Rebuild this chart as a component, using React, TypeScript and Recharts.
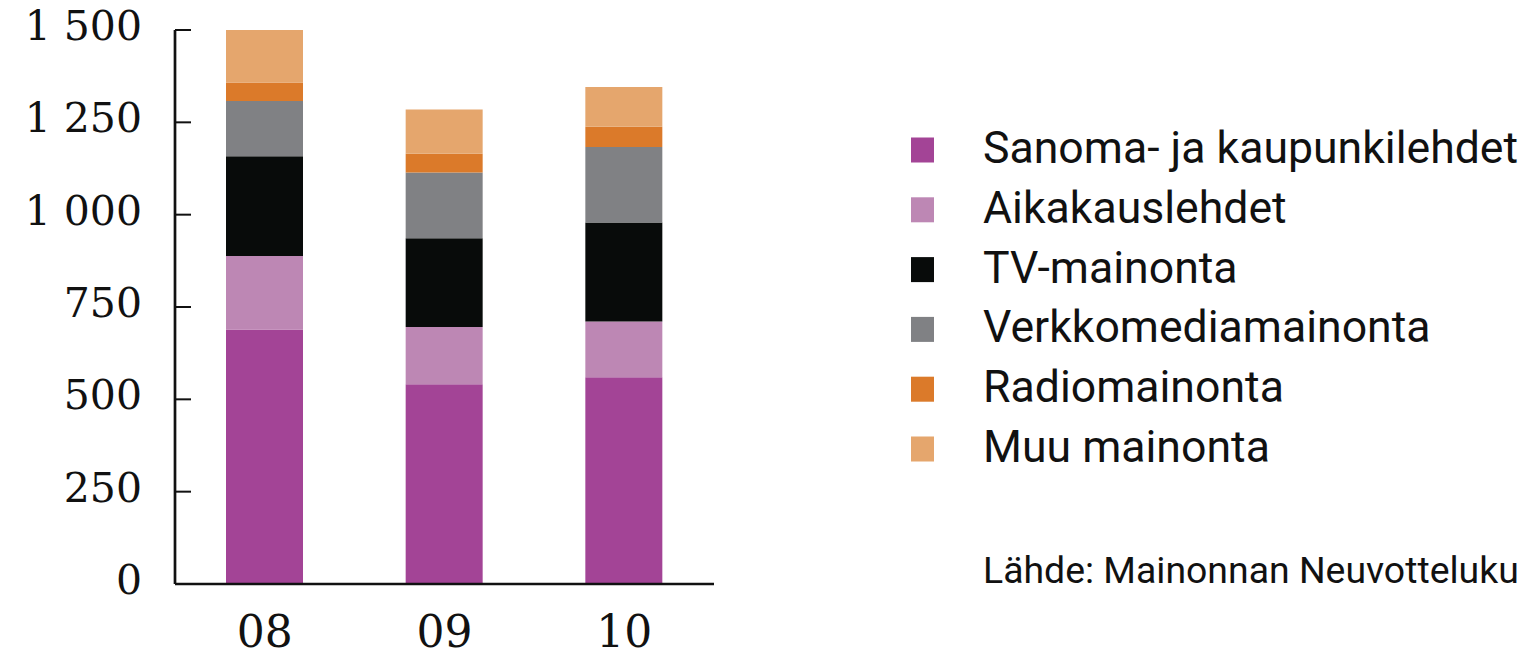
import React from 'react';
import { BarChart, Bar, XAxis, YAxis, Legend } from 'recharts';

// advertising spend by medium, years 2008-2010
const years = ['08', '09', '10'];
const sanoma = [689, 541, 560];
const aikakaus = [199, 155, 151];
const tv = [270, 240, 268];
const verkko = [150, 178, 204];
const radio = [50, 51, 55];
const muu = [142, 120, 108];

const seriesKeys = ['sanoma', 'aikakaus', 'tv', 'verkko', 'radio', 'muu'];
const seriesNames = [
  'Sanoma- ja kaupunkilehdet',
  'Aikakauslehdet',
  'TV-mainonta',
  'Verkkomediamainonta',
  'Radiomainonta',
  'Muu mainonta',
];
const seriesColors = ['#a34496', '#bd87b4', '#080b0a', '#808184', '#db7a2a', '#e5a66d'];
const yTicks = [0, 250, 500, 750, 1000, 1250, 1500];
const sourceText = 'Lähde: Mainonnan Neuvotteluku';

const data = years.map((year, i) => ({
  year,
  sanoma: sanoma[i],
  aikakaus: aikakaus[i],
  tv: tv[i],
  verkko: verkko[i],
  radio: radio[i],
  muu: muu[i],
}));

const INK = '#111';
const SERIF = "'DejaVu Serif', serif";
const SANS = "Roboto, 'Noto Sans', sans-serif";

const fmtThousands = (v: number) =>
  v >= 1000 ? `${Math.floor(v / 1000)} ${String(v % 1000).padStart(3, '0')}` : String(v);

function YTick(props: any) {
  const { x, y, payload } = props;
  return (
    <g>
      <line x1={x + 34} x2={x + 50} y1={y} y2={y} stroke={INK} strokeWidth={2} />
      <text x={x + 1} y={y + 10} textAnchor="end" fontFamily={SERIF} fontSize={41} fill={INK}>
        {fmtThousands(payload.value)}
      </text>
    </g>
  );
}

function XTick(props: any) {
  const { x, y, payload } = props;
  return (
    <text x={x} y={y + 63} textAnchor="middle" fontFamily={SERIF} fontSize={44} fill={INK}>
      {payload.value}
    </text>
  );
}

function LegendBox() {
  return (
    <svg width={1528} height={656} style={{ position: 'absolute', left: 0, top: 0, overflow: 'visible' }}>
      {seriesNames.map((name, i) => {
        const cy = 150 + i * 59.8;
        return (
          <g key={name}>
            <rect x={911} y={cy - 12.5} width={23} height={25} fill={seriesColors[i]} />
            <text x={983} y={cy + 13} fontFamily={SANS} fontSize={44.6} fill={INK}>
              {name}
            </text>
          </g>
        );
      })}
      <text x={983} y={583} fontFamily={SANS} fontSize={37.4} fill={INK}>
        {sourceText}
      </text>
    </svg>
  );
}

export default function App() {
  return (
    <div style={{ position: 'absolute', left: 0, top: 0, width: 1528, height: 656, background: '#fff' }}>
      <BarChart
        width={1528}
        height={656}
        data={data}
        margin={{ top: 30, right: 814, bottom: 0, left: 0 }}
      >
        <XAxis
          dataKey="year"
          axisLine={{ stroke: INK, strokeWidth: 2.7 }}
          tickLine={false}
          tickSize={0}
          tickMargin={0}
          tick={<XTick />}
          height={72}
        />
        <YAxis
          type="number"
          domain={[0, 1500]}
          ticks={yTicks}
          width={175}
          axisLine={{ stroke: INK, strokeWidth: 2.7 }}
          tickLine={false}
          tickSize={0}
          tickMargin={34}
          tick={<YTick />}
          interval={0}
        />
        <Legend
          layout="vertical"
          align="center"
          verticalAlign="middle"
          wrapperStyle={{ left: 0, top: 0, width: 1528, height: 656, pointerEvents: 'none' }}
          content={() => <LegendBox />}
        />
        {seriesKeys.map((key, i) => (
          <Bar
            key={key}
            dataKey={key}
            name={seriesNames[i]}
            stackId="a"
            fill={seriesColors[i]}
            barSize={77}
            isAnimationActive={false}
          />
        ))}
      </BarChart>
    </div>
  );
}
